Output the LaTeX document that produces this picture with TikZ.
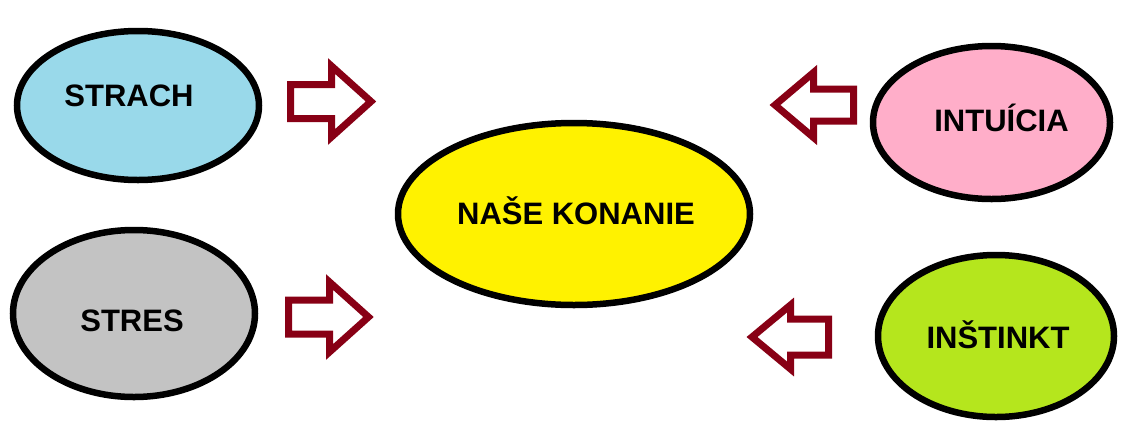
\documentclass[tikz,border=0pt]{standalone}
\usepackage{fontspec}
\setmainfont{Liberation Sans}
\usetikzlibrary{shapes.geometric}
\definecolor{cblue}{RGB}{153,217,234}
\definecolor{cgray}{RGB}{195,195,195}
\definecolor{cyellow}{RGB}{255,242,0}
\definecolor{cpink}{RGB}{255,174,201}
\definecolor{clime}{RGB}{181,230,29}
\definecolor{cdarkred}{RGB}{136,0,21}
\tikzset{
  bubble/.style={ellipse, draw=black, line width=6.5pt, inner sep=0pt},
  lbl/.style={font=\fontsize{31}{36}\selectfont\bfseries, text=black, inner sep=0pt, text height=22pt, text depth=0pt},
  blockarrow/.style={draw=cdarkred, fill=white, line width=7pt, line join=miter},
}
\begin{document}
\begin{tikzpicture}[x=1pt, y=-1pt]
\useasboundingbox (0,0) rectangle (1121,421);
\fill[white] (0,0) rectangle (1121,421);
% ellipses
\node[bubble, fill=cblue, minimum width=242pt, minimum height=149pt,
      label={[lbl, xshift=-9pt, yshift=10pt]center:STRACH}] (strach) at (138,105.5) {};
\node[bubble, fill=cgray, minimum width=242pt, minimum height=167pt,
      label={[lbl, xshift=-2pt, yshift=-6.5pt]center:STRES}] (stres) at (134,313.5) {};
\node[bubble, fill=cyellow, minimum width=352pt, minimum height=182pt,
      label={[lbl, xshift=2pt, yshift=1pt]center:NAŠE KONANIE}] (nase) at (574,214) {};
\node[bubble, fill=cpink, minimum width=237pt, minimum height=153pt,
      label={[lbl, xshift=10pt, yshift=2.5pt]center:INTUÍCIA}] (intuicia) at (991.5,122.5) {};
\node[bubble, fill=clime, minimum width=236pt, minimum height=162pt,
      label={[lbl, xshift=2pt, yshift=-1pt]center:INŠTINKT}] (instinkt) at (996,336) {};
% block arrows (tail middle at the coordinate)
\coordinate (a1) at (290.5,101.5);
\coordinate (a2) at (288.5,317);
\coordinate (a3) at (853.5,105);
\coordinate (a4) at (828.5,337);
\draw[blockarrow, shift={(a1)}] (0,-17) -- (41,-17) -- (41,-35.5) -- (80.5,0) -- (41,35.5) -- (41,17) -- (0,17) -- cycle;
\draw[blockarrow, shift={(a2)}] (0,-17) -- (41,-17) -- (41,-35) -- (80,0) -- (41,35) -- (41,17) -- (0,17) -- cycle;
\draw[blockarrow, shift={(a3)}] (0,-16) -- (-40,-16) -- (-40,-32.5) -- (-78.5,0) -- (-40,32.5) -- (-40,16) -- (0,16) -- cycle;
\draw[blockarrow, shift={(a4)}] (0,-18) -- (-38,-18) -- (-38,-32) -- (-76.5,0) -- (-38,32) -- (-38,18) -- (0,18) -- cycle;
\end{tikzpicture}
\end{document}
